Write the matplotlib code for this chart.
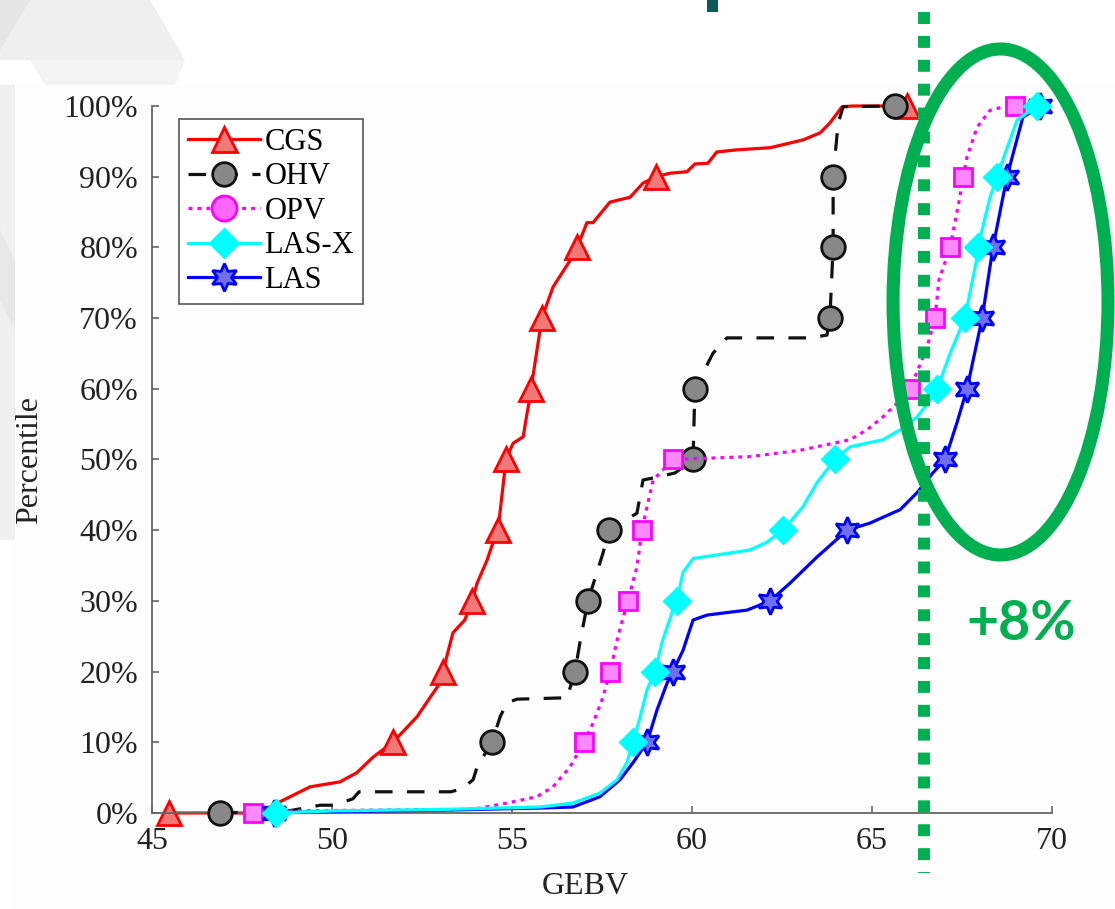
import matplotlib.pyplot as plt
from matplotlib.lines import Line2D
from matplotlib.patches import Ellipse, Polygon, Rectangle

plt.rcParams['font.family'] = 'serif'
plt.rcParams['font.serif'] = ['Liberation Serif', 'DejaVu Serif']

# percentile levels where the markers sit
levels = [0, 10, 20, 30, 40, 50, 60, 70, 80, 90, 100]
xticks = [45, 50, 55, 60, 65, 70]
yticks = [0, 10, 20, 30, 40, 50, 60, 70, 80, 90, 100]

# CGS
cgs_x = [45.47, 47.92, 48.56, 49.39, 50.22, 50.69, 51.14, 51.69, 52.36, 53.00, 53.08,
         53.36, 53.69, 53.89, 54.03, 54.31, 54.47, 54.61, 54.81, 54.83, 55.03, 55.31,
         55.42, 55.50, 55.53, 55.58, 55.83, 56.14, 56.67, 56.81, 57.08, 57.25, 57.72,
         58.28, 58.64, 59.00, 59.39, 59.86, 60.08, 60.44, 60.69, 61.25, 62.17, 63.08,
         63.56, 63.83, 64.17, 64.47, 65.97]
cgs_y = [0, 0, 1.6, 3.7, 4.4, 5.7, 7.9, 10, 13.6, 18.4, 20,
         25.5, 27.3, 30, 32.5, 35.8, 38.2, 40, 48.9, 50, 52.3, 53.2,
         56.6, 58.8, 60, 61.7, 70, 74.4, 78.6, 80, 83.5, 83.5, 86.4,
         87.1, 89.1, 90, 90.5, 90.7, 91.8, 91.9, 93.5, 93.8, 94.1, 95.2,
         96.2, 97.6, 99.9, 100, 100]
cgs_marks = [45.47, 51.69, 53.08, 53.89, 54.61, 54.83, 55.53, 55.83, 56.81, 59.00, 65.97]

# OHV
ohv_x = [46.89, 48.80, 49.67, 50.03, 50.58, 50.75, 53.30, 53.60, 53.92, 54.03, 54.44,
         54.67, 54.86, 55.14, 56.53, 56.75, 56.90, 57.11, 57.53, 57.69, 58.47, 58.64,
         59.03, 59.53, 60.03, 60.08, 60.58, 60.97, 63.28, 63.75, 63.83, 63.92, 63.92,
         64.06, 64.20, 65.64]
ohv_y = [0, 0.3, 1.1, 1.1, 2.0, 3.0, 3.0, 3.4, 4.7, 6.5, 10,
         13.6, 15.6, 16.1, 16.3, 20, 24.5, 30, 36.8, 40, 42.4, 47.1,
         47.5, 48.1, 50, 60, 65, 67.2, 67.2, 67.6, 70, 80, 90,
         97.6, 99.9, 100]
ohv_marks = [46.89, 54.44, 56.75, 57.11, 57.69, 60.03, 60.08, 63.83, 63.92, 63.92, 65.64]

# OPV
opv_x = [47.81, 49.00, 51.00, 53.90, 54.86, 55.69, 56.14, 56.61, 57.00, 57.25, 57.53,
         57.72, 57.97, 58.22, 58.47, 58.61, 58.75, 58.92, 59.19, 59.47, 61.60, 63.00,
         64.39, 64.86, 65.30, 65.78, 66.06, 66.53, 66.75, 66.86, 67.17, 67.44, 67.53,
         67.64, 67.92, 68.28, 68.75, 68.97]
opv_y = [0, 0.3, 0.4, 0.5, 1.4, 2.3, 3.7, 6.5, 10, 12.7, 16.4,
         20, 25.5, 30, 34.8, 40, 43.3, 47.1, 48.5, 50, 50.4, 51.3,
         52.8, 54.2, 56.0, 58.4, 60, 65.9, 70, 75.4, 80, 87.1, 90,
         92.8, 97, 99.4, 100, 100]
opv_marks = [47.81, 57.00, 57.72, 58.22, 58.61, 59.47, 66.06, 66.75, 67.17, 67.53, 68.97]

# LAS-X
lasx_x = [48.44, 50.00, 53.00, 55.78, 56.69, 57.44, 57.92, 58.19, 58.36, 58.56, 58.75,
          58.97, 59.19, 59.47, 59.58, 59.75, 60.03, 60.69, 61.61, 62.08, 62.53, 63.08,
          63.47, 63.97, 64.39, 65.31, 65.78, 66.25, 66.61, 66.81, 67.17, 67.58, 67.92,
          67.94, 68.28, 68.47, 69.03, 69.58]
lasx_y = [0, 0.3, 0.5, 0.85, 1.4, 2.8, 4.7, 7.1, 10, 13.6, 17.4,
          20, 24.5, 28.7, 30, 34, 36, 36.5, 37.2, 38.3, 40, 43.3,
          46.7, 50, 51.8, 52.8, 54.2, 56, 58.4, 60, 65, 70, 78.6,
          80, 87.1, 90, 98, 100]
lasx_marks = [48.44, 58.36, 58.97, 59.58, 62.53, 63.97, 66.81, 67.58, 67.94, 68.47, 69.58]

# LAS
las_x = [48.40, 50.00, 53.00, 55.78, 56.69, 57.44, 58.00, 58.36, 58.75, 59.03, 59.31,
         59.47, 59.75, 60.03, 60.42, 61.53, 62.17, 62.72, 63.47, 64.31, 64.94, 65.78,
         66.25, 66.69, 67.03, 67.36, 67.64, 68.06, 68.36, 68.75, 69.19, 69.67]
las_y = [0, 0.2, 0.4, 0.7, 0.85, 2.3, 4.7, 7.1, 10, 14.6, 18.4,
         20, 23, 27.3, 28, 28.7, 30, 32.5, 36.2, 40, 41, 42.9,
         45.3, 48.1, 50, 55.2, 60, 70, 80, 90, 98.4, 100]
las_marks = [48.40, 58.75, 59.47, 62.17, 64.31, 67.03, 67.64, 68.06, 68.36, 68.75, 69.67]

green = '#00b050'

fig = plt.figure(figsize=(11.15, 9.09), dpi=100)

# slide background behind the chart
bg = fig.add_axes([0, 0, 1, 1], zorder=0)
bg.set_xlim(0, 1115)
bg.set_ylim(909, 0)
bg.axis('off')
bg.add_patch(Polygon([(0, 0), (150, 0), (185, 60), (0, 60)], color='#efefef', lw=0))
bg.add_patch(Polygon([(0, 0), (30, 0), (0, 50)], color='#e6e6e6', lw=0))
bg.add_patch(Polygon([(30, 60), (185, 60), (175, 85), (45, 85)], color='#f4f4f4', lw=0))
bg.add_patch(Polygon([(0, 85), (15, 85), (15, 540), (0, 540)], color='#f0f0f0', lw=0))
bg.add_patch(Polygon([(0, 230), (15, 260), (15, 330), (0, 300)], color='#e8e8e8', lw=0))
bg.add_patch(Rectangle((15, 85), 1100, 824, color='#fdfdfd', lw=0))
bg.add_patch(Rectangle((707, 0), 11, 12, color='#0b5a57', lw=0))

ax = fig.add_axes([152 / 1115, 96 / 909, 900 / 1115, 707 / 909], zorder=1)
ax.set_facecolor('none')

series = [
    ('CGS', cgs_x, cgs_y, cgs_marks, '#ff0000', '-', '^', '#f07878', '#ff0000', 17),
    ('OHV', ohv_x, ohv_y, ohv_marks, '#111111', (0, (5.5, 4.5)), 'o', '#888888', '#111111', 17),
    ('OPV', opv_x, opv_y, opv_marks, '#ff00ff', (0, (1.2, 1.6)), 's', '#ff88ff', '#ff00ff', 13),
    ('LAS', las_x, las_y, las_marks, '#0000ff', '-', (6, 1, 0), '#7070ee', '#0000ff', 19),
    ('LAS-X', lasx_x, lasx_y, lasx_marks, '#00ffff', '-', 'D', '#00ffff', '#00ffff', 13),
]

for i, (name, xs, ys, marks, col, ls, mk, face, edge, ms) in enumerate(series):
    ax.plot(xs, ys, color=col, lw=2.3, linestyle=ls, zorder=2 + i, clip_on=False)
    ax.plot(marks, levels, linestyle='none', marker=mk, markersize=ms,
            markerfacecolor=face, markeredgecolor=edge, markeredgewidth=2,
            zorder=2 + i, clip_on=False)

ax.set_xlim(45, 70)
ax.set_ylim(0, 100)
ax.set_xticks(xticks)
ax.set_yticks(yticks)
ax.set_yticklabels([f'{v}%' for v in yticks])
ax.spines['top'].set_visible(False)
ax.spines['right'].set_visible(False)
for s in ['left', 'bottom']:
    ax.spines[s].set_color('#666666')
    ax.spines[s].set_linewidth(1.3)
ax.tick_params(direction='in', length=5, width=1.2, color='#666666',
               labelsize=23, labelcolor='#222222', pad=10)

ax.set_xlabel('GEBV', fontsize=23, color='#222222')
ax.set_ylabel('Percentile', fontsize=23, color='#222222')
ax.xaxis.set_label_coords(0.481, -0.083)
ax.yaxis.set_label_coords(-0.12, 0.5)

# legend (OPV is shown with a round marker, as in the original)
handles = [
    Line2D([], [], color='#ff0000', lw=2.3, marker='^', ms=18, mfc='#f07878', mec='#ff0000', mew=2),
    Line2D([], [], color='#111111', lw=2.3, linestyle=(0, (5.5, 4.5)), marker='o', ms=17,
           mfc='#888888', mec='#111111', mew=2),
    Line2D([], [], color='#ff00ff', lw=2.3, linestyle=(0, (1.2, 1.6)), marker='o', ms=18,
           mfc='#ff66ff', mec='#ff00ff', mew=2),
    Line2D([], [], color='#00ffff', lw=2.3, marker='D', ms=14, mfc='#00ffff', mec='#00ffff', mew=2),
    Line2D([], [], color='#0000ff', lw=2.3, marker=(6, 1, 0), ms=20, mfc='#7070ee', mec='#0000ff', mew=2),
]
leg = ax.legend(handles, ['CGS', 'OHV', 'OPV', 'LAS-X', 'LAS'], loc='upper left',
                bbox_to_anchor=(0.03, 0.982), borderaxespad=0, fontsize=22,
                handlelength=2.35, handletextpad=0.15, labelspacing=0.18,
                borderpad=0.3, fancybox=False, framealpha=1)
leg.get_frame().set_edgecolor('#555555')
leg.get_frame().set_linewidth(1.2)
leg.set_zorder(20)

# highlight: cut-off line, ellipse and gain label
ax.axvline(66.44, ymin=-0.085, ymax=1.139, color=green, lw=8.6,
           linestyle=(0.92, (1, 1)), clip_on=False, zorder=30)
ax.add_patch(Ellipse((68.57, 72.28), width=5.97, height=71.57, fill=False,
                     edgecolor=green, lw=9.4, clip_on=False, zorder=31))
ax.text(69.14, 24.5, '+8%', color=green, fontsize=40, fontweight='bold',
        family=['Lato', 'DejaVu Sans'], ha='center', va='baseline', clip_on=False, zorder=32)

fig.savefig('out.png', dpi=100)
